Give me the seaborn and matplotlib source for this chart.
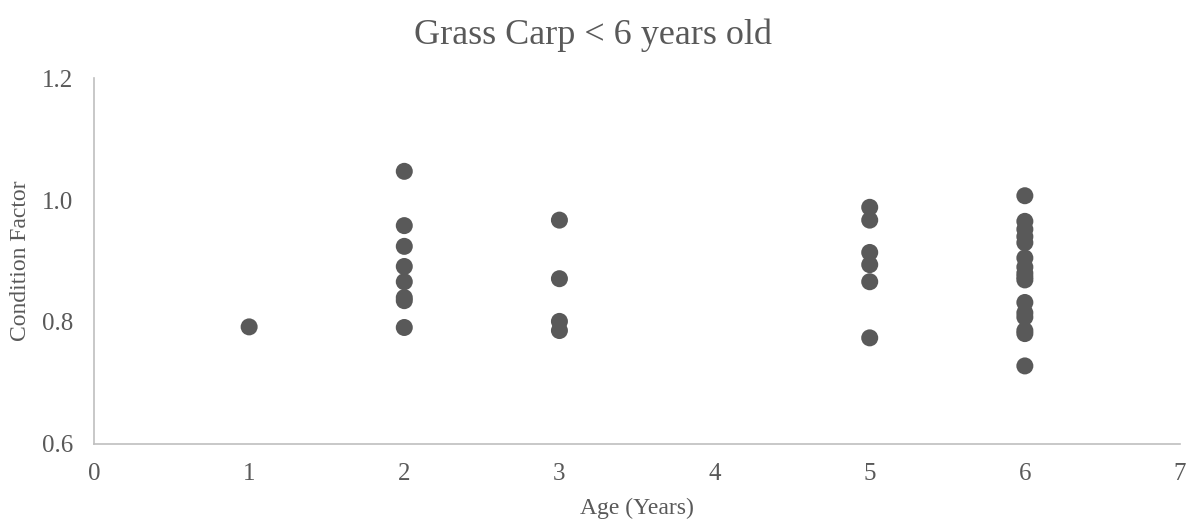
import matplotlib
matplotlib.use("Agg")
import matplotlib.pyplot as plt
import seaborn as sns
import pandas as pd

age1 = [0.792]
age2 = [1.047, 0.958, 0.924, 0.891, 0.866, 0.840, 0.835, 0.791]
age3 = [0.967, 0.871, 0.801, 0.786]
age5 = [0.988, 0.967, 0.914, 0.894, 0.866, 0.774]
age6 = [1.007, 0.965, 0.952, 0.940, 0.930, 0.905, 0.890, 0.880, 0.874,
        0.869, 0.832, 0.815, 0.808, 0.786, 0.781, 0.728]

ages = [1] * len(age1) + [2] * len(age2) + [3] * len(age3) + [5] * len(age5) + [6] * len(age6)
cf = age1 + age2 + age3 + age5 + age6
df = pd.DataFrame({"Age": ages, "Condition Factor": cf})

sns.set_theme(style="white")
plt.rcParams['font.family'] = ['Liberation Serif', 'DejaVu Serif']

fig = plt.figure(figsize=(11.95, 5.27), dpi=100)
ax = fig.add_axes([94/1195, (527-444)/527, (1180-94)/1195, (444-78)/527])

grey = "#595959"
sns.scatterplot(data=df, x="Age", y="Condition Factor", ax=ax, color=grey,
                s=150, edgecolor="none", linewidth=0, zorder=3)

ax.set_xlim(0, 7)
ax.set_ylim(0.6, 1.2)
ax.set_xticks(range(0, 8))
ax.set_yticks([0.6, 0.8, 1.0, 1.2])
ax.set_yticklabels(["0.6", "0.8", "1.0", "1.2"])
ax.tick_params(axis="both", length=0, labelsize=18, colors=grey)
ax.tick_params(axis="x", pad=14)
ax.tick_params(axis="y", pad=15)

for side in ["top", "right"]:
    ax.spines[side].set_visible(False)
for side in ["left", "bottom"]:
    ax.spines[side].set_color("#bfbfbf")
    ax.spines[side].set_linewidth(1.2)

ax.set_xlabel("Age (Years)", fontsize=17, color=grey, labelpad=9)
ax.set_ylabel("Condition Factor", fontsize=17, color=grey, labelpad=8)
fig.text(593/1195, 1 - 35/527, "Grass Carp < 6 years old",
         ha="center", va="center", fontsize=26, color=grey)
ax.grid(False)

fig.savefig("out.png", dpi=100)
